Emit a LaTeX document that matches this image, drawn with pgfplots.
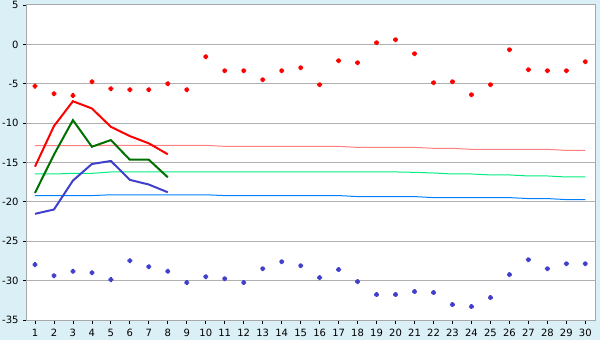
\documentclass[border=0pt]{standalone}
\usepackage{fontspec}
\setmainfont{DejaVu Sans}
\usepackage{pgfplots}
\pgfplotsset{compat=1.18}
\definecolor{bgc}{RGB}{218,239,246}
\definecolor{axgray}{RGB}{168,168,168}
\definecolor{gridgray}{RGB}{176,176,176}
\definecolor{rline}{RGB}{255,0,0}
\definecolor{dgreen}{RGB}{0,112,0}
\definecolor{bline}{RGB}{64,64,204}
\definecolor{pinkl}{RGB}{255,128,128}
\definecolor{greenl}{RGB}{0,238,128}
\definecolor{bluel}{RGB}{0,128,255}
\pgfdeclareplotmark{fatplus}{%
  \pgfpathrectangle{\pgfpoint{-2.4bp}{-1bp}}{\pgfpoint{4.8bp}{2bp}}%
  \pgfpathrectangle{\pgfpoint{-1bp}{-2.4bp}}{\pgfpoint{2bp}{4.8bp}}%
  \pgfpathrectangle{\pgfpoint{-1.6bp}{-1.6bp}}{\pgfpoint{3.2bp}{3.2bp}}%
  \pgfusepathqfill}
\begin{document}
\begin{tikzpicture}
\fill[bgc] (-27bp,-20bp) rectangle (573bp,320bp);
\begin{axis}[
  scale only axis, width=568bp, height=315bp,
  xmin=0.58, xmax=30.51, ymin=-35, ymax=5,
  axis background/.style={fill=white},
  axis line style={draw=axgray, line width=1bp},
  ymajorgrids, grid style={draw=gridgray, line width=1bp},
  ytick={-35,-30,-25,-20,-15,-10,-5,0,5},
  yticklabels={-35,-30,-25,-20,-15,-10,-5,0,5},
  xtick={1,...,30},
  xticklabels={1,2,3,4,5,6,7,8,9,10,11,12,13,14,15,16,17,18,19,20,21,22,23,24,25,26,27,28,29,30},
  xtick pos=lower, ytick pos=left,
  tick align=outside, major tick length=4bp,
  tick style={black, line width=0.8bp},
  tick label style={font=\fontsize{10bp}{12bp}\selectfont, text=black},
  xticklabel style={yshift=-2bp},
  yticklabel style={xshift=-1bp},
  clip=false,
]
% thin normals
\addplot[pinkl, line width=1bp] coordinates {(1,-12.87)(2,-12.87)(3,-12.87)(4,-12.87)(5,-12.82)(6,-12.82)(7,-12.82)(8,-12.82)(9,-12.82)(10,-12.82)(11,-12.95)(12,-12.95)(13,-12.95)(14,-12.95)(15,-12.95)(16,-12.95)(17,-12.95)(18,-13.08)(19,-13.08)(20,-13.08)(21,-13.08)(22,-13.2)(23,-13.2)(24,-13.33)(25,-13.33)(26,-13.33)(27,-13.33)(28,-13.33)(29,-13.46)(30,-13.46)};
\addplot[greenl, line width=1bp] coordinates {(1,-16.46)(2,-16.46)(3,-16.38)(4,-16.38)(5,-16.2)(6,-16.2)(7,-16.2)(8,-16.2)(9,-16.2)(10,-16.2)(11,-16.2)(12,-16.2)(13,-16.2)(14,-16.2)(15,-16.2)(16,-16.2)(17,-16.2)(18,-16.2)(19,-16.2)(20,-16.2)(21,-16.25)(22,-16.33)(23,-16.46)(24,-16.46)(25,-16.58)(26,-16.58)(27,-16.71)(28,-16.71)(29,-16.84)(30,-16.84)};
\addplot[bluel, line width=1bp] coordinates {(1,-19.2)(2,-19.2)(3,-19.2)(4,-19.2)(5,-19.1)(6,-19.1)(7,-19.1)(8,-19.1)(9,-19.1)(10,-19.1)(11,-19.2)(12,-19.2)(13,-19.2)(14,-19.2)(15,-19.2)(16,-19.2)(17,-19.2)(18,-19.33)(19,-19.33)(20,-19.33)(21,-19.33)(22,-19.46)(23,-19.46)(24,-19.46)(25,-19.46)(26,-19.46)(27,-19.58)(28,-19.58)(29,-19.71)(30,-19.71)};
% thick lines
\addplot[rline, line width=2bp] coordinates {(1,-15.53)(2,-10.38)(3,-7.22)(4,-8.14)(5,-10.47)(6,-11.65)(7,-12.57)(8,-13.96)};
\addplot[dgreen, line width=2bp] coordinates {(1,-18.86)(2,-14.0)(3,-9.62)(4,-13.0)(5,-12.15)(6,-14.65)(7,-14.65)(8,-16.88)};
\addplot[bline, line width=2bp] coordinates {(1,-21.52)(2,-20.97)(3,-17.3)(4,-15.19)(5,-14.81)(6,-17.2)(7,-17.8)(8,-18.78)};
% points
\addplot[only marks, mark=fatplus, rline] coordinates {(1,-5.3)(2,-6.27)(3,-6.5)(4,-4.74)(5,-5.63)(6,-5.76)(7,-5.76)(8,-5.0)(9,-5.76)(10,-1.57)(11,-3.34)(12,-3.34)(13,-4.49)(14,-3.34)(15,-2.96)(16,-5.12)(17,-2.07)(18,-2.33)(19,0.21)(20,0.59)(21,-1.19)(22,-4.87)(23,-4.74)(24,-6.39)(25,-5.12)(26,-0.68)(27,-3.22)(28,-3.34)(29,-3.34)(30,-2.2)};
\addplot[only marks, mark=fatplus, bline] coordinates {(1,-27.97)(2,-29.37)(3,-28.82)(4,-28.99)(5,-29.87)(6,-27.47)(7,-28.23)(8,-28.82)(9,-30.25)(10,-29.5)(11,-29.75)(12,-30.25)(13,-28.48)(14,-27.6)(15,-28.1)(16,-29.62)(17,-28.6)(18,-30.13)(19,-31.77)(20,-31.77)(21,-31.39)(22,-31.52)(23,-33.04)(24,-33.29)(25,-32.15)(26,-29.24)(27,-27.34)(28,-28.48)(29,-27.85)(30,-27.85)};
\end{axis}
\pgfresetboundingbox
\useasboundingbox (-27bp,-20bp) rectangle (573bp,320bp);
\end{tikzpicture}
\end{document}
